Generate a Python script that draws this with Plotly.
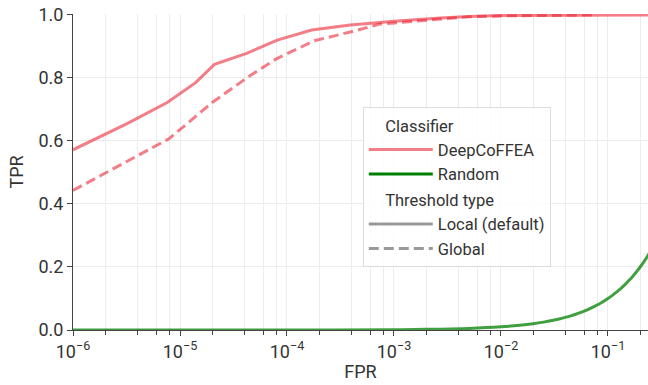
import plotly.graph_objects as go

# DeepCoFFEA, local (default) threshold
local_fpr = [1e-6, 3.2e-6, 7.6e-6, 1.4e-5, 2.1e-5, 4.2e-5, 8.1e-5, 1.7e-4, 3.9e-4,
             1e-3, 2.7e-3, 5e-3, 1e-2, 3e-2, 0.1, 0.25]
local_tpr = [0.572, 0.655, 0.722, 0.785, 0.843, 0.878, 0.920, 0.952, 0.968,
             0.980, 0.990, 0.995, 0.998, 0.999, 1.0, 1.0]

# DeepCoFFEA, global threshold
global_fpr = [1e-6, 7.9e-6, 2.0e-5, 4.5e-5, 8.1e-5, 1.8e-4, 3.9e-4, 7.4e-4,
              2.7e-3, 5e-3, 1e-2, 3e-2, 7.5e-2]
global_tpr = [0.443, 0.607, 0.722, 0.807, 0.862, 0.918, 0.946, 0.971,
              0.987, 0.994, 0.997, 0.999, 1.0]

# Random classifier (TPR equals FPR)
random_fpr = [1e-6, 1e-4, 1e-3, 2e-3, 5e-3, 1e-2, 1.5e-2, 2e-2, 2.5e-2, 3e-2, 3.5e-2,
              4e-2, 4.5e-2, 5e-2, 5.5e-2, 6e-2, 6.5e-2, 7e-2, 7.5e-2, 8e-2, 8.5e-2,
              9e-2, 9.5e-2, 0.1, 0.11, 0.12, 0.13, 0.14, 0.15, 0.16, 0.17, 0.18,
              0.19, 0.2, 0.21, 0.22, 0.23, 0.24, 0.25]
random_tpr = [1e-6, 1e-4, 1e-3, 2e-3, 5e-3, 1e-2, 1.5e-2, 2e-2, 2.5e-2, 3e-2, 3.5e-2,
              4e-2, 4.5e-2, 5e-2, 5.5e-2, 6e-2, 6.5e-2, 7e-2, 7.5e-2, 8e-2, 8.5e-2,
              9e-2, 9.5e-2, 0.1, 0.11, 0.12, 0.13, 0.14, 0.15, 0.16, 0.17, 0.18,
              0.19, 0.2, 0.21, 0.22, 0.23, 0.24, 0.25]

x_tickvals = [1e-6, 1e-5, 1e-4, 1e-3, 1e-2, 1e-1]
x_ticktext = ["10<sup>−6</sup>", "10<sup>−5</sup>", "10<sup>−4</sup>",
              "10<sup>−3</sup>", "10<sup>−2</sup>", "10<sup>−1</sup>"]
y_ticks = [0.0, 0.2, 0.4, 0.6, 0.8, 1.0]

RED = "rgba(235,40,55,0.6)"
GREEN = "rgba(0,128,0,0.75)"
GRAY = "rgba(128,128,128,0.8)"
DASH = "10px,5px"
PAD = "\u00a0" * 4

fig = go.Figure()
fig.add_trace(go.Scatter(x=random_fpr, y=random_tpr, mode="lines",
                         line=dict(color=GREEN, width=3, shape="spline", smoothing=0.8),
                         showlegend=False, hoverinfo="skip"))
fig.add_trace(go.Scatter(x=local_fpr, y=local_tpr, mode="lines",
                         line=dict(color=RED, width=3),
                         showlegend=False))
fig.add_trace(go.Scatter(x=global_fpr, y=global_tpr, mode="lines",
                         line=dict(color=RED, width=3, dash=DASH),
                         showlegend=False))

# legend entries
fig.add_trace(go.Scatter(x=[None], y=[None], mode="lines", name="DeepCoFFEA",
                         line=dict(color=RED, width=3),
                         legendgroup="clf", legendgrouptitle=dict(text=PAD + "Classifier")))
fig.add_trace(go.Scatter(x=[None], y=[None], mode="lines", name="Random",
                         line=dict(color="rgb(0,128,0)", width=3),
                         legendgroup="clf"))
fig.add_trace(go.Scatter(x=[None], y=[None], mode="lines", name="Local (default)",
                         line=dict(color=GRAY, width=3),
                         legendgroup="thr", legendgrouptitle=dict(text=PAD + "Threshold type")))
fig.add_trace(go.Scatter(x=[None], y=[None], mode="lines", name="Global",
                         line=dict(color=GRAY, width=3, dash=DASH),
                         legendgroup="thr"))

minor_vals = []
for e in range(-6, 0):
    for d in [2, 4, 6, 8]:
        minor_vals.append(d * 10 ** e)

fig.update_layout(
    width=648, height=385,
    margin=dict(l=73, r=0, t=14, b=55),
    paper_bgcolor="white", plot_bgcolor="white",
    font=dict(family="Roboto, Lato, sans-serif", size=16, color="#333"),
    legend=dict(x=0.504, y=0.706, xanchor="left", yanchor="top",
                bgcolor="rgba(255,255,255,0.85)", bordercolor="#dddddd", borderwidth=1,
                font=dict(size=16.5), tracegroupgap=1, itemwidth=64,
                grouptitlefont=dict(size=16.5)),
    xaxis=dict(type="log", range=[-6, -0.626], tickvals=x_tickvals, ticktext=x_ticktext,
               showline=True, linecolor="#444", linewidth=1,
               ticks="outside", ticklen=5, tickcolor="#444",
               tickfont=dict(size=18),
               showgrid=True, gridcolor="#ececec",
               minor=dict(tickmode="array", tickvals=minor_vals, ticks="outside",
                          ticklen=4, tickcolor="#444", showgrid=True, gridcolor="#ececec"),
               title=dict(text="FPR", font=dict(size=18), standoff=4),
               zeroline=False),
    yaxis=dict(range=[0, 1.003], tickvals=y_ticks, tickformat=".1f",
               showline=True, linecolor="#444", linewidth=1,
               ticks="outside", ticklen=5, tickcolor="#444",
               tickfont=dict(size=18),
               showgrid=True, gridcolor="#ececec", zeroline=False,
               title=dict(text="TPR", font=dict(size=18), standoff=10)),
)

fig.write_html("out.html", config={"displayModeBar": False},
               post_script="document.body.style.margin='0';document.body.style.overflow='hidden';")
